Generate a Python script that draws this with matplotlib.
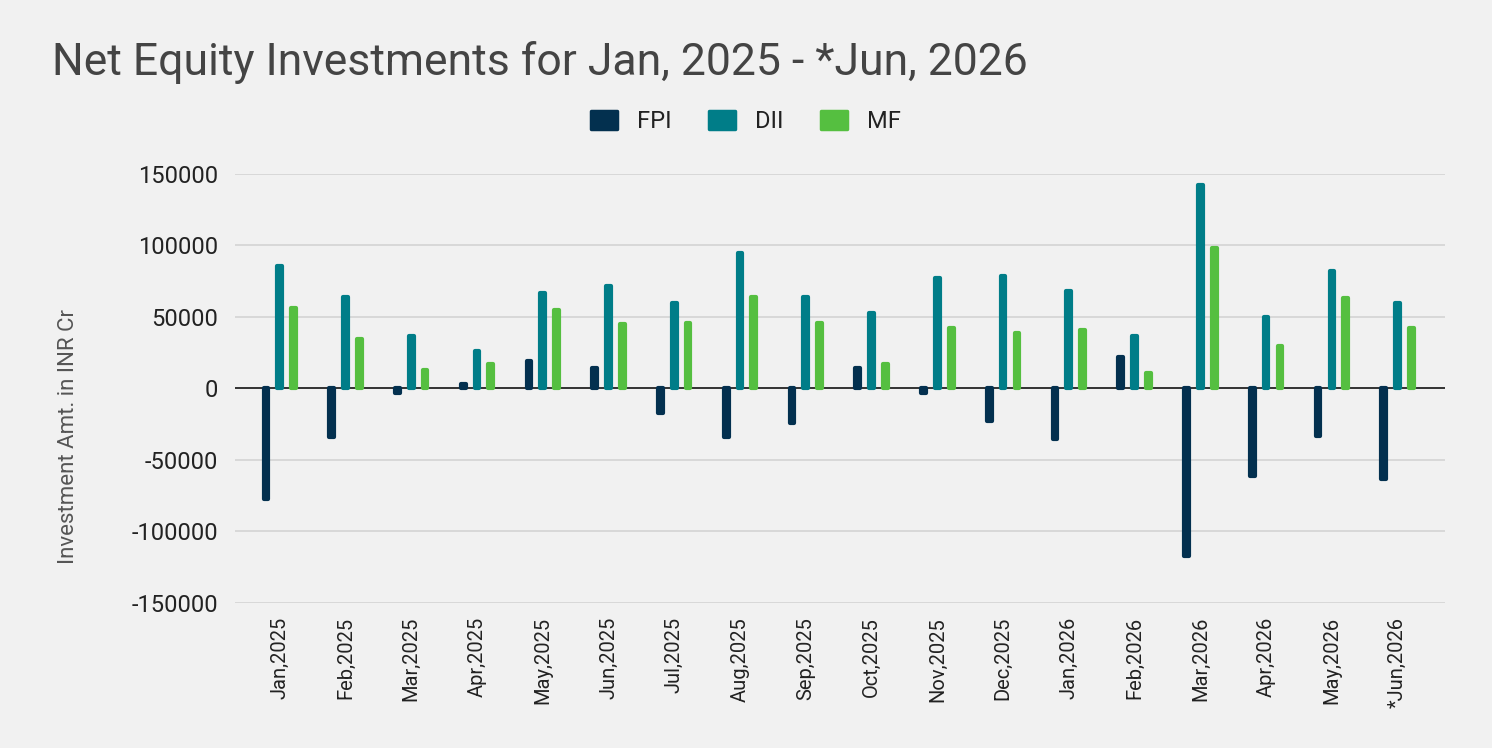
import numpy as np
import matplotlib
matplotlib.use("Agg")
import matplotlib.pyplot as plt

plt.rcParams["font.family"] = ["Roboto", "DejaVu Sans"]

months = ["Jan,2025", "Feb,2025", "Mar,2025", "Apr,2025", "May,2025", "Jun,2025",
          "Jul,2025", "Aug,2025", "Sep,2025", "Oct,2025", "Nov,2025", "Dec,2025",
          "Jan,2026", "Feb,2026", "Mar,2026", "Apr,2026", "May,2026", "*Jun,2026"]

fpi = [-77000, -34000, -3500, 2800, 19000, 14000, -17500, -34000, -24000,
       14000, -3500, -23000, -35500, 22000, -117000, -61000, -33000, -63500]
dii = [85500, 64000, 37000, 26500, 66500, 71500, 60000, 94500, 64000,
       52500, 77000, 79000, 68000, 37000, 142000, 50000, 82000, 60000]
mf = [56500, 34500, 12800, 16800, 54700, 45000, 46000, 64000, 46000,
      17000, 42300, 38500, 40800, 10500, 98500, 29500, 63000, 42300]

series = [("FPI", fpi, "#03304f"), ("DII", dii, "#007d88"), ("MF", mf, "#55bf40")]
y_ticks = [150000, 100000, 50000, 0, -50000, -100000, -150000]

bg = "#f1f1f1"
fig = plt.figure(figsize=(14.92, 7.48), dpi=100, facecolor=bg)
ax = fig.add_axes([0.1575, 0.1939, 0.811, 0.5735])
ax.set_facecolor(bg)

x = np.arange(len(months))
offsets = [-0.21, 0.0, 0.21]
for (name, vals, col), off in zip(series, offsets):
    ax.bar(x + off, vals, width=0.072, color=col, edgecolor=col, linewidth=3,
           joinstyle="round", label=name, zorder=3)

ax.axhline(0, color="#333333", linewidth=1.4, zorder=2)
ax.set_ylim(-150000, 150000)
ax.set_xlim(-0.68, 17.72)
ax.set_yticks(y_ticks)
ax.set_yticklabels([str(v) for v in y_ticks], fontsize=17, color="#222222")
ax.set_xticks(x)
ax.set_xticklabels(months, rotation=90, fontsize=14.5, color="#222222",
                   va="top", ha="center")
ax.tick_params(length=0, axis="y", pad=12)
ax.tick_params(length=0, axis="x", pad=10)
ax.grid(axis="y", color="#d6d6d6", linewidth=1.3, zorder=0)
ax.set_axisbelow(True)
for sp in ax.spines.values():
    sp.set_visible(False)

fig.text(52 / 1492, 1 - 75 / 748, "Net Equity Investments for Jan, 2025 - *Jun, 2026",
         fontsize=32, color="#444444", va="baseline", ha="left")
fig.text(68 / 1492, 1 - 437 / 748, "Investment Amt. in INR Cr", rotation=90,
         fontsize=16, color="#555555", va="center", ha="center")

leg = fig.legend(loc="center", bbox_to_anchor=(0.5, 1 - 121.5 / 748), ncol=3,
                 frameon=False, fontsize=17, handlelength=1.1, handleheight=0.82,
                 columnspacing=1.57, handletextpad=0.85, labelcolor="#222222")
for h in leg.legend_handles:
    h.set_linewidth(2.5)
    h.set_joinstyle("round")

fig.savefig("out.png", dpi=100, facecolor=bg)
